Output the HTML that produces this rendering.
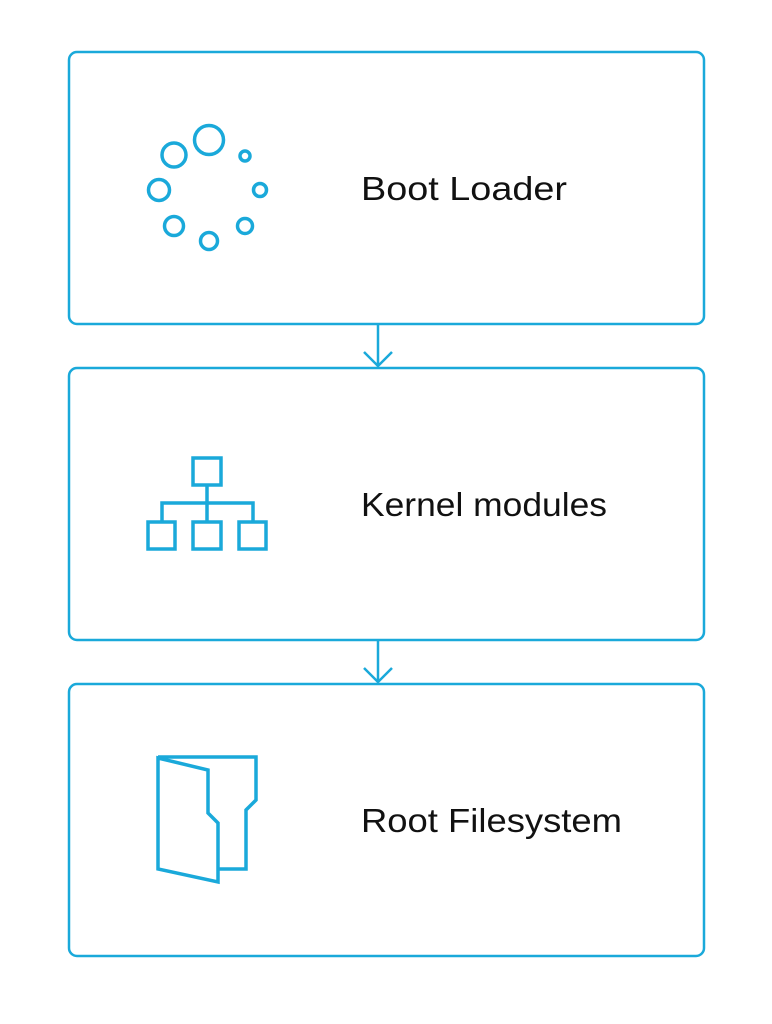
<!DOCTYPE html>
<html><head><style>
html,body{margin:0;padding:0;background:#fff;}
svg{display:block;}
text{font-family:"Liberation Sans",sans-serif;font-size:33px;fill:#111;}
</style></head><body>
<svg width="772" height="1024" viewBox="0 0 772 1024" xmlns="http://www.w3.org/2000/svg">
<g fill="none" stroke="#1aa9da" stroke-width="2.5">
<rect x="69" y="52" width="635" height="272" rx="8"/>
<rect x="69" y="368" width="635" height="272" rx="8"/>
<rect x="69" y="684" width="635" height="272" rx="8"/>
<path d="M378 324V366M364 352L378 366L392 352"/>
<path d="M378 640V682M364 668L378 682L392 668"/>
</g>
<g fill="none" stroke="#1aa9da" stroke-width="3.5">
<circle cx="209" cy="140" r="14.5"/>
<circle cx="174" cy="155" r="12"/>
<circle cx="159" cy="190" r="10.5"/>
<circle cx="174" cy="226" r="9.5"/>
<circle cx="209" cy="241" r="8.5"/>
<circle cx="245" cy="226" r="7.5"/>
<circle cx="260" cy="190" r="6.5"/>
<circle cx="245" cy="156" r="5"/>
<rect x="193" y="458" width="28" height="27"/>
<path d="M207 485V503M162 521V503H253V521M207 503V521"/>
<rect x="148" y="522" width="27" height="27"/>
<rect x="193" y="522" width="28" height="27"/>
<rect x="239" y="522" width="27" height="27"/>
<path d="M158 757H256V800L246 810V869H218"/>
<path d="M158 758L208 770V813L218 823V882L158 869Z"/>
</g>
<text x="361" y="200" textLength="206" lengthAdjust="spacingAndGlyphs">Boot Loader</text>
<text x="361" y="516" textLength="246" lengthAdjust="spacingAndGlyphs">Kernel modules</text>
<text x="361" y="832" textLength="261" lengthAdjust="spacingAndGlyphs">Root Filesystem</text>
</svg>
</body></html>
